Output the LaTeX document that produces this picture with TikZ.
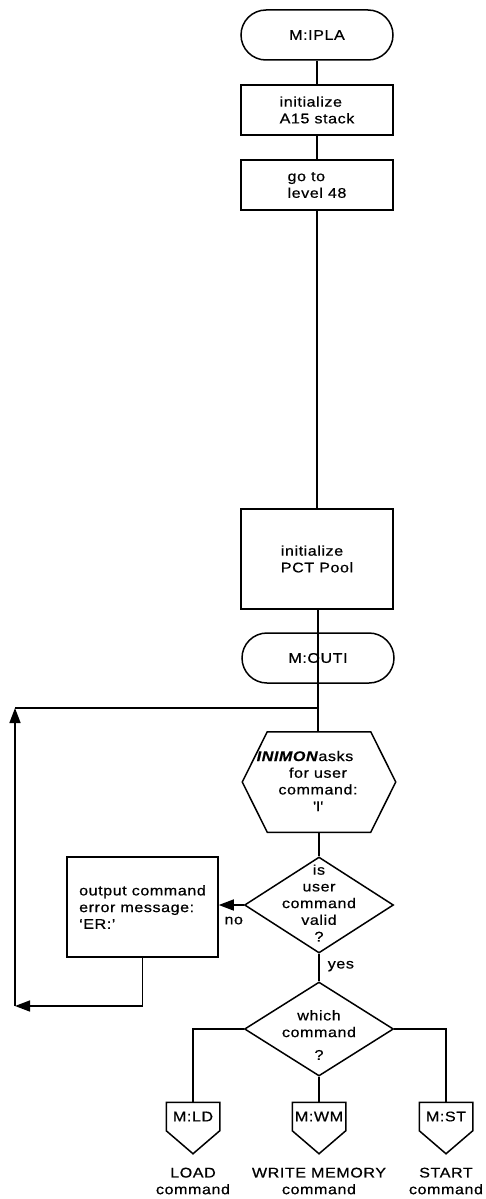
\documentclass[tikz,border=0pt]{standalone}
\usepackage{fontspec}
\setmainfont{Liberation Sans}[FakeStretch=1.15,LetterSpace=4,FakeBold=0.6]
\usetikzlibrary{arrows.meta,shapes.geometric,calc}

\begin{document}
\begin{tikzpicture}[x=1pt,y=-1pt,line width=1.5pt,
  every node/.style={font=\fontsize{14}{16.7}\selectfont},
  term/.style={draw,rounded corners=25pt,minimum width=152pt,minimum height=50pt,inner sep=0pt},
  proc/.style={draw,minimum width=152pt,align=left,inner sep=0pt},
  dec/.style={draw,diamond,minimum width=149pt,inner sep=0pt},
  txt/.style={align=center,inner sep=0pt},
  offp/.style={minimum width=52pt,minimum height=27pt,inner sep=0pt},
  tip/.style={-{Triangle[length=15pt,width=11pt]}},
  link/.style={draw}]
\useasboundingbox (0,0) rectangle (486,1199);

% main column
\node[term] (ipla) at (317,35) {M:IPLA};
\node[proc,minimum height=50pt] (init) at (317,110) {initialize\\A15 stack};
\node[proc,minimum height=50pt] (level) at (317,185) {go to\\level 48};
\node[proc,minimum height=100pt] (pct) at (317,559) {initialize\\PCT Pool};
\node[term] (outi) at (318,658) {M:OUTI};

% input hexagon
\node[minimum width=152pt,minimum height=99pt,inner sep=0pt] (ask) at (319,782) {};
\draw ($(ask.north west)+(25,0)$) -- ($(ask.north east)+(-25,0)$) -- (ask.east)
  -- ($(ask.south east)+(-25,0)$) -- ($(ask.south west)+(25,0)$) -- (ask.west) -- cycle;
\node[txt] (asktxt) at (318,781) {\textbf{\textit{INIMON}}asks\hspace*{26pt}\\for user\\command:\\\textquotesingle I\textquotesingle};

% validity test
\node[dec,minimum height=96pt] (valid) at (319,905) {};
\node[txt] (validtxt) at (319,903) {is\\user\\command\\valid\\?};

% error message box
\node[proc,minimum width=151pt,minimum height=100pt] (err) at (142.5,907) {output command\\error message:\\`ER:'};

% command dispatch
\node[dec,minimum height=94pt] (which) at (319,1029) {};
\node[txt] (whichtxt) at (319,1035) {which\\command\\[6pt]?};

% off-page connectors
\node[offp] (ld) at (193,1116.5) {M:LD};
\node[offp] (wm) at (319,1116.5) {M:WM};
\node[offp] (st) at (446,1116.5) {M:ST};
\foreach \n in {ld,wm,st}
  \draw (\n.north west) -- (\n.north east) -- (\n.south east)
    -- ($(\n.south)+(0,23)$) -- (\n.south west) -- cycle;

\node[txt] (ldl) at (193,1181) {LOAD\\command};
\node[txt] (wml) at (319,1181) {WRITE MEMORY\\command};
\node[txt] (stl) at (446,1181) {START\\command};

% flow lines
\draw (ipla) -- (init);
\draw (init) -- (level);
\draw (level.south) -- (level.south |- pct.north);
\draw (pct.south) -- (pct.south -| outi.south) -- (outi.south);
\draw (outi.south) -- (outi.south |- ask.north);
\draw (ask.south) -- (ask.south |- valid.north);
\draw[tip] (valid.west) -- (valid.west -| err.east)
  node[pos=0.4,below=11pt,inner sep=0pt] (no) {no};
\draw (valid.south) -- (which.north)
  node[pos=0.45,right=8pt,inner sep=0pt] (yes) {yes};
\draw (which.west) -| (ld.north);
\draw (which.south) -- (wm.north);
\draw (which.east) -| (st.north);

% return loop
\coordinate (loopbot) at (15,1006);
\coordinate (looptop) at (15,708);
\coordinate (join) at (318,708);
\draw[tip] (err.south) |- (loopbot);
\draw[tip] (loopbot) -- (looptop);
\draw (looptop) -- (join);
\end{tikzpicture}
\end{document}
